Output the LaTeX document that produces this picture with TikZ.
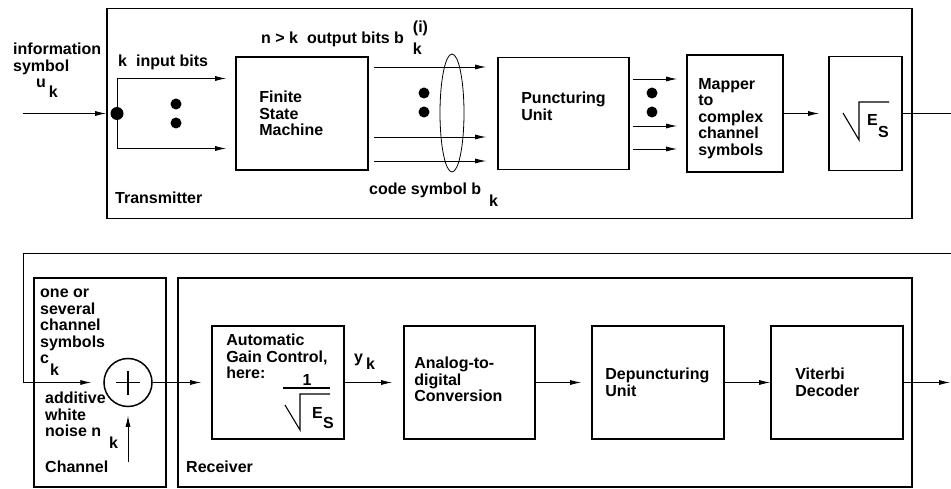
\documentclass[tikz,border=0pt]{standalone}
\usepackage{fontspec}
\setmainfont{Liberation Sans}
\usetikzlibrary{arrows.meta,positioning}
\newcommand{\lsf}{\fontsize{16}{16.5}\selectfont\bfseries}

\begin{document}
\begin{tikzpicture}[x=1pt,y=-1pt,
    blk/.style={draw, rectangle, line width=1.8pt, inner sep=0pt},
    conn/.style={line width=0.8pt, -{Latex[length=11pt,width=5pt]}},
    wire/.style={line width=0.8pt},
    radical/.style={line width=1.1pt, line join=miter},
    lbl/.style={font=\lsf, inner sep=0pt, align=left}]
    \useasboundingbox (0,0) rectangle (951,489);
    \node[blk, minimum width=805pt, minimum height=210pt] (tx) at (509.5,113.5) {};
    \node[blk, minimum width=132pt, minimum height=113pt] (fsm) at (302,113.5) {};
    \node[blk, minimum width=131pt, minimum height=112pt] (punct) at (563.5,113.5) {};
    \node[blk, minimum width=96pt, minimum height=117pt] (mapper) at (735,113.5) {};
    \node[blk, minimum width=73pt, minimum height=114pt] (sqbox) at (865.5,113.5) {};
    \node[blk, minimum width=132pt, minimum height=209pt] (ch) at (100,382.5) {};
    \node[blk, minimum width=734pt, minimum height=209pt] (rx) at (545,382.5) {};
    \node[blk, minimum width=132pt, minimum height=113pt] (agc) at (278,382.5) {};
    \node[blk, minimum width=131pt, minimum height=113pt] (adc) at (469.5,382.5) {};
    \node[blk, minimum width=132pt, minimum height=113pt] (dep) at (658,382.5) {};
    \node[blk, minimum width=132pt, minimum height=113pt] (vit) at (837,382.5) {};
    \node[circle, draw, line width=1.5pt, minimum size=48pt, inner sep=0pt] (sum) at (128,382.5) {};
    \node[circle, fill, inner sep=0pt, minimum size=13pt] (split) at (117,113.5) {};
    \coordinate (uin) at (23,113.5);
    \coordinate (txout) at (951,113.5);
    \coordinate (fbin) at (951,253.5);
    \coordinate (fbcorner) at (23,253.5);
    \coordinate (nz) at (128,462);
    \coordinate (dout) at (950,382.5);

    \draw[conn] (uin) -- (tx.west);
    \draw[conn] (split.center) |- ([xshift=-9pt,yshift=35pt]fsm.west);
    \draw[conn] (split.center) |- ([xshift=-9pt,yshift=-35pt]fsm.west);
    \fill (176,104) circle [radius=5.5];
    \fill (176,123) circle [radius=5.5];
    \draw[conn, shorten <=5pt, shorten >=11pt] ([yshift=46.5pt]fsm.east) -- ([yshift=46.5pt]punct.west);
    \draw[conn, shorten <=5pt, shorten >=11pt] ([yshift=-23.5pt]fsm.east) -- ([yshift=-23.5pt]punct.west);
    \draw[conn, shorten <=5pt, shorten >=11pt] ([yshift=-47.5pt]fsm.east) -- ([yshift=-47.5pt]punct.west);
    \fill (424,93) circle [radius=5.5];
    \fill (424,112) circle [radius=5.5];
    \draw[wire] (452,113) ellipse [x radius=12, y radius=59];
    \draw[conn, shorten <=3pt, shorten >=9pt] ([yshift=34.5pt]punct.east) -- ([yshift=34.5pt]mapper.west);
    \draw[conn, shorten <=3pt, shorten >=9pt] ([yshift=-12.5pt]punct.east) -- ([yshift=-12.5pt]mapper.west);
    \draw[conn, shorten <=3pt, shorten >=9pt] ([yshift=-35.5pt]punct.east) -- ([yshift=-35.5pt]mapper.west);
    \fill (652,93) circle [radius=5.5];
    \fill (652,112) circle [radius=5.5];
    \draw[conn, shorten >=9pt] (mapper.east) -- (sqbox.west);
    \draw[wire] (sqbox.east) -- (txout);

    \draw[conn, shorten >=12pt] (fbin) -- (fbcorner) |- (sum.west);
    \draw[line width=1.5pt] ([xshift=-12pt]sum.center) -- ([xshift=12pt]sum.center)
        ([yshift=-12pt]sum.center) -- ([yshift=12pt]sum.center);
    \draw[conn, shorten >=8.5pt] (nz) -- (sum.south);
    \draw[conn, shorten >=10pt] (sum.east) -- (agc.west);
    \draw[conn, shorten >=11pt] (agc.east) -- (adc.west);
    \draw[conn, shorten >=10pt] (adc.east) -- (dep.west);
    \draw[conn] (dep.east) -- (vit.west);
    \draw[conn] (vit.east) -- (dout);

    \node[lbl, anchor=north west] (infolbl) at (13,43) {information\\symbol\\\hspace{23pt}u\hspace{3pt}\raisebox{-10pt}{k}};
    \node[lbl, anchor=base west] (kin) at (118,67) {k\hspace{9pt}input bits};
    \node[lbl, anchor=base west] (nout) at (261,44) {n > k\hspace{9pt}output bits b\hspace{9pt}\rlap{\raisebox{11pt}{(i)}}\raisebox{-11pt}{k}};
    \node[lbl, anchor=base west] (cslbl) at (369,195) {code symbol b\hspace{8pt}\raisebox{-12pt}{k}};
    \node[lbl, anchor=base west] (txlbl) at (115,204) {Transmitter};
    \node[lbl, anchor=west] (fsmtxt) at ([xshift=24pt]fsm.west) {Finite\\State\\Machine};
    \node[lbl, anchor=west] (puntxt) at ([xshift=24pt,yshift=7pt]punct.west) {Puncturing\\Unit};
    \node[lbl, anchor=west] (maptxt) at ([xshift=12pt,yshift=-5pt]mapper.west) {Mapper\\to\\complex\\channel\\symbols};
    \draw[radical] (843,113) -- (859,140) -- (859,102) -- (889,102);
    \node[lbl, anchor=base west] (sqe) at (867,126) {E};
    \node[lbl, anchor=base west] (sqs) at (878,138) {S};

    \node[lbl, anchor=north west] (chsym) at (40,289) {one or\\several\\channel\\symbols\\c\hspace{1pt}\raisebox{-12pt}{k}};
    \node[lbl, anchor=north west] (noiselbl) at (45,392) {additive\\white\\noise n\hspace{8pt}\raisebox{-12pt}{k}};
    \node[lbl, anchor=base west] (chlbl) at (45,472) {Channel};
    \node[lbl, anchor=base west] (rxlbl) at (186,472) {Receiver};
    \node[lbl, anchor=north west] (agctxt) at ([xshift=15pt,yshift=-9pt]agc.north west) {Automatic\\Gain Control,\\here:};
    \node[lbl, anchor=base] (agcone) at (307,385) {1};
    \draw[line width=1.5pt] (283,388) -- (330,388);
    \draw[radical] (285,405) -- (300,430) -- (300,394) -- (330,394);
    \node[lbl, anchor=base west] (agce) at (312,418) {E};
    \node[lbl, anchor=base west] (agcs) at (323,428) {S};
    \node[lbl, anchor=base west] (yk) at (354,362) {y\hspace{3pt}\raisebox{-7pt}{k}};
    \node[lbl, anchor=west] (adctxt) at ([xshift=11pt,yshift=3pt]adc.west) {Analog-to-\\digital\\Conversion};
    \node[lbl, anchor=west] (deptxt) at ([xshift=14pt]dep.west) {Depuncturing\\Unit};
    \node[lbl, anchor=west] (vittxt) at ([xshift=25pt]vit.west) {Viterbi\\Decoder};
\end{tikzpicture}
\end{document}
